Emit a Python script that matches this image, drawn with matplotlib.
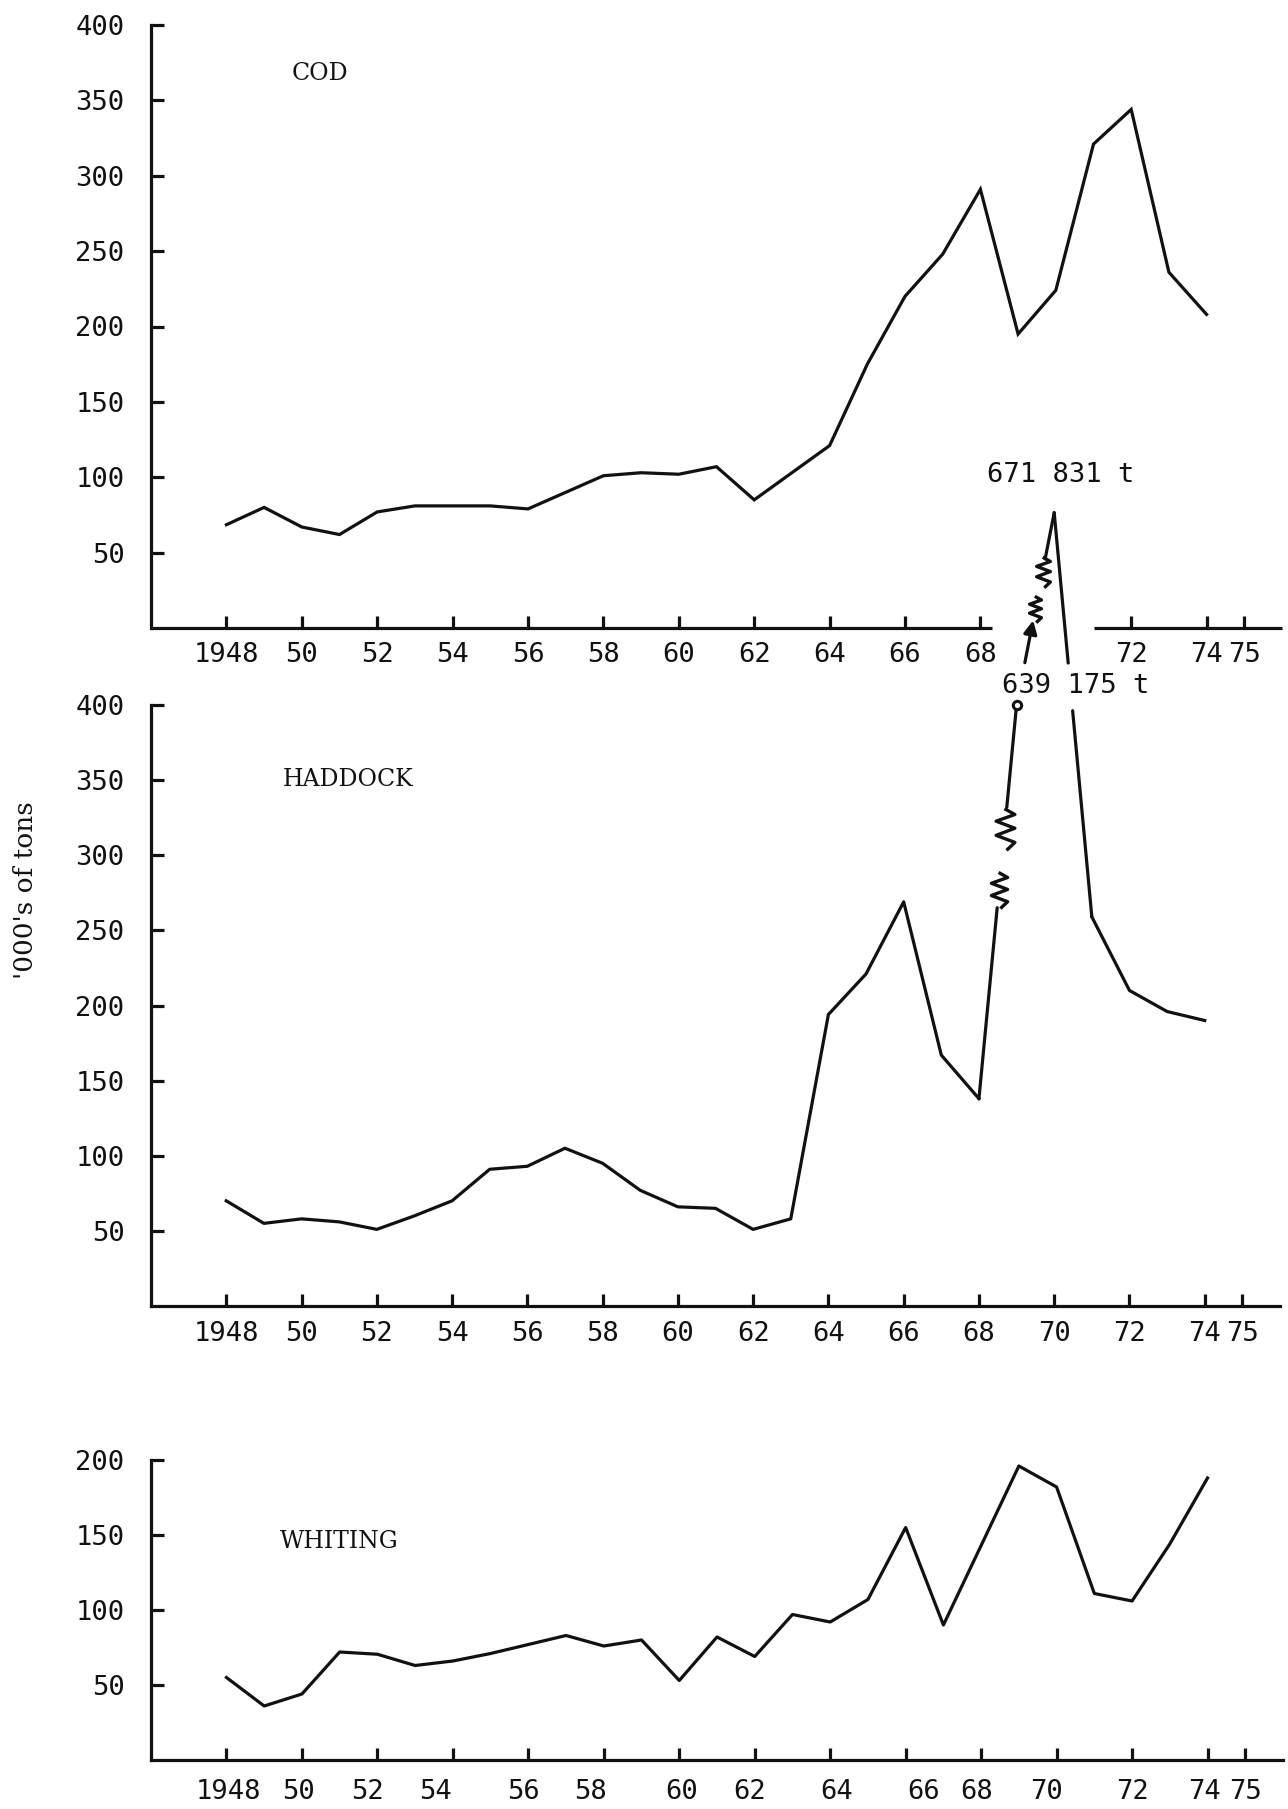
import matplotlib
matplotlib.use("Agg")
import matplotlib.pyplot as plt
from matplotlib.path import Path
from matplotlib.transforms import ScaledTranslation

# ---------------- data (thousand tons) ----------------
years = list(range(1948, 1975))
cod = [68.5, 80, 67, 62, 77, 81, 81, 81, 79, 90, 101, 103, 102, 107, 85,
       103, 121, 175, 220, 248, 291, 195, 224, 321, 344, 236, 208]
haddock = [70, 55, 58, 56, 51, 60, 70, 91, 93, 105, 95, 77, 66, 65, 51,
           58, 194, 221, 269, 167, 138, 639.175, 671.831, 259, 210, 196, 190]
whiting = [55, 36, 44, 72, 70.5, 63, 66, 71, 77, 83, 76, 80, 53, 82, 69,
           97, 92, 107, 155, 90, 143, 196, 182, 111, 106, 144, 188]

cod_ticks = list(range(1948, 1969, 2)) + [1972, 1974, 1975]
full_ticks = list(range(1948, 1975, 2)) + [1975]
cod_yticks = [50, 100, 150, 200, 250, 300, 350, 400]
had_yticks = [50, 100, 150, 200, 250, 300, 350, 400]
whi_yticks = [50, 100, 150, 200]
peak_labels = ["671 831 t", "639 175 t"]
species = ["COD", "HADDOCK", "WHITING"]
ylabel = "'000's of tons"


def year_label(y):
    return "1948" if y == 1948 else f"{y % 100:02d}"


# ---------------- style ----------------
W, H, DPI = 1288, 1809, 100
INK = "#111111"
LW = 2.3
NUM_FONT = "DejaVu Sans Mono"
TXT_FONT = "DejaVu Serif"
NUM_SIZE = 19.5

fig = plt.figure(figsize=(W / DPI, H / DPI), dpi=DPI)
fig.patch.set_facecolor("white")


def rect(l, t, r, b):
    return [l / W, 1 - b / H, (r - l) / W, (b - t) / H]


XLIM = (1946.0, 1976.0)


def setup(ax, ylim, yticks, xticks, xpad):
    ax.set_facecolor("none")
    ax.set_xlim(*XLIM)
    ax.set_ylim(*ylim)
    for s in ("top", "right"):
        ax.spines[s].set_visible(False)
    for s in ("left", "bottom"):
        ax.spines[s].set_linewidth(LW)
        ax.spines[s].set_color(INK)
    ax.set_yticks(yticks)
    ax.set_yticklabels([str(v) for v in yticks], fontfamily=NUM_FONT,
                       fontsize=NUM_SIZE, color=INK)
    ax.set_xticks(xticks)
    ax.set_xticklabels([year_label(y) for y in xticks], fontfamily=NUM_FONT,
                       fontsize=NUM_SIZE, color=INK)
    ax.tick_params(axis="both", direction="in", length=9, width=LW, color=INK)
    ax.tick_params(axis="y", pad=19)
    ax.tick_params(axis="x", pad=xpad)


# ---------------- COD ----------------
ax_cod = fig.add_axes(rect(151, 25, 1282, 628))
setup(ax_cod, (0, 400), cod_yticks, cod_ticks, 10)
ax_cod.spines["bottom"].set_visible(False)
# broken x-axis line (gap where the haddock peak passes)
ax_cod.plot([XLIM[0], 1968.3], [0, 0], color=INK, lw=LW, clip_on=False,
            solid_capstyle="butt")
ax_cod.plot([1971.0, XLIM[1]], [0, 0], color=INK, lw=LW, clip_on=False,
            solid_capstyle="butt")
ax_cod.plot(years, cod, color=INK, lw=LW, solid_joinstyle="miter")

# ---------------- HADDOCK ----------------
ax_had = fig.add_axes(rect(151, 705, 1280, 1306))
setup(ax_had, (0, 400), had_yticks, full_ticks, 11)

i69 = years.index(1969)
BREAK_BASE = haddock[i69]       # first off-scale value, drawn at axis top
BREAK_STRETCH = 3.92            # drawing scale above the break


def shown(v):
    return v if v <= 400 else 400 + (v - BREAK_BASE) * BREAK_STRETCH


had_shown = [shown(v) for v in haddock]
pts = list(zip(years, had_shown))
i68, i70, i71 = i69 - 1, i69 + 1, i69 + 2

# on-scale parts of the series
ax_had.plot(years[:i68 + 1], had_shown[:i68 + 1], color=INK, lw=LW)
ax_had.plot(years[i71:], had_shown[i71:], color=INK, lw=LW)


def at(p0, p1, t):
    return (p0[0] + (p1[0] - p0[0]) * t, p0[1] + (p1[1] - p0[1]) * t)


def piece(p0, p1, t0, t1):
    a, b = at(p0, p1, t0), at(p0, p1, t1)
    ax_had.plot([a[0], b[0]], [a[1], b[1]], color=INK, lw=LW, clip_on=False,
                solid_capstyle="round")


zig = Path([(0.05, -1.0), (0.45, -0.62), (-0.45, -0.28), (0.45, 0.06),
            (-0.45, 0.40), (0.45, 0.72), (-0.05, 1.0)])


def squiggle(p0, p1, t, size):
    x, y = at(p0, p1, t)
    ax_had.plot([x], [y], marker=zig, ms=size, mfc="none", mec=INK, mew=2.4,
                linestyle="none", clip_on=False)


# 1968 -> 1969 with break marks
p68, p69, p70, p71 = pts[i68], pts[i69], pts[i70], pts[i71]
piece(p68, p69, 0.0, 0.485)
squiggle(p68, p69, 0.53, 26)
squiggle(p68, p69, 0.685, 30)
piece(p68, p69, 0.74, 1.0)
ax_had.plot([p69[0]], [p69[1]], marker="o", ms=6, mfc="white", mec=INK,
            mew=2.2, clip_on=False, zorder=5)

# 1969 -> 1970 (off scale, runs into the cod panel)
ax_had.annotate("", xy=at(p69, p70, 0.44), xytext=at(p69, p70, 0.22),
                arrowprops=dict(arrowstyle="-|>", lw=LW, color=INK,
                                mutation_scale=20, shrinkA=0, shrinkB=0),
                annotation_clip=False)
squiggle(p69, p70, 0.50, 19)
squiggle(p69, p70, 0.69, 22)
piece(p69, p70, 0.76, 1.0)

# 1970 -> 1971, interrupted by the value label
piece(p70, p71, 0.0, 0.372)
piece(p70, p71, 0.49, 1.0)

fig.text(987 / W, 1 - 475 / H, peak_labels[0], fontfamily=NUM_FONT,
         fontsize=NUM_SIZE, color=INK, ha="left", va="center")
fig.text(1002 / W, 1 - 686 / H, peak_labels[1], fontfamily=NUM_FONT,
         fontsize=NUM_SIZE, color=INK, ha="left", va="center")

# ---------------- WHITING ----------------
ax_whi = fig.add_axes(rect(151, 1460, 1283, 1760))
setup(ax_whi, (0, 200), whi_yticks, full_ticks, 14)
ax_whi.plot(years, whiting, color=INK, lw=LW)
whiting_label_shift_px = [2, -3, -10, -17, -5, -13, 2, -5, 6, 18, -5, -10, 0, -3, 0]
for lbl, dx in zip(ax_whi.get_xticklabels(), whiting_label_shift_px):
    lbl.set_transform(lbl.get_transform() +
                      ScaledTranslation(dx / DPI, 0, fig.dpi_scale_trans))

# ---------------- panel titles & y label ----------------
fig.text(292 / W, 1 - 73 / H, species[0], fontfamily=TXT_FONT, fontsize=17,
         color=INK, ha="left", va="center")
fig.text(283 / W, 1 - 780 / H, species[1], fontfamily=TXT_FONT, fontsize=17,
         color=INK, ha="left", va="center")
fig.text(280 / W, 1 - 1541 / H, species[2], fontfamily=TXT_FONT, fontsize=17,
         color=INK, ha="left", va="center")
fig.text(26 / W, 1 - 890 / H, ylabel, fontfamily=TXT_FONT, fontsize=19,
         color=INK, rotation=90, ha="center", va="center")

fig.savefig("out.png", dpi=DPI, facecolor="white")
